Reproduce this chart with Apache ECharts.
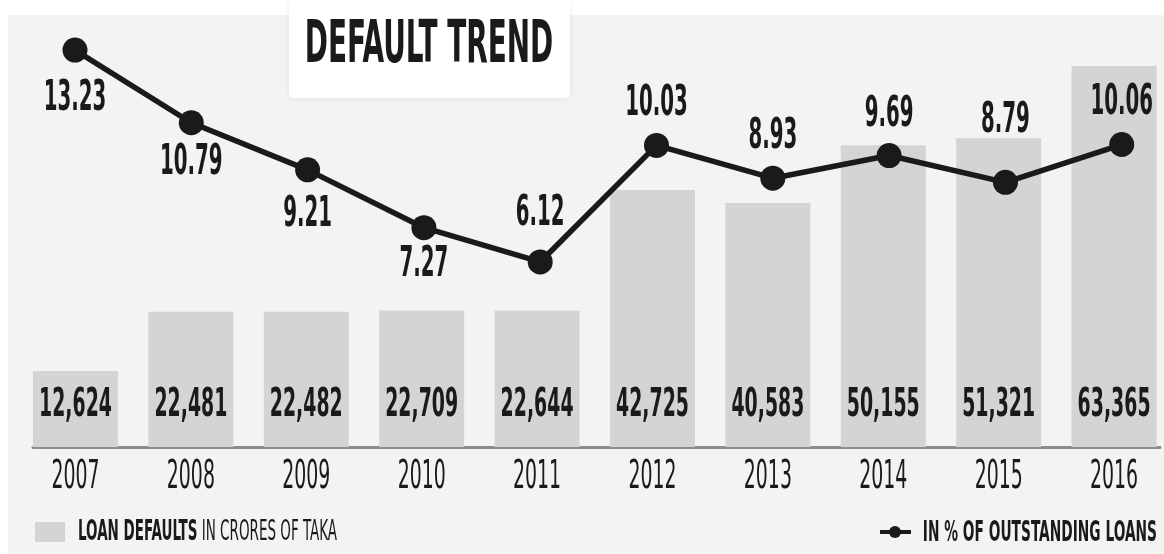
<!DOCTYPE html>
<html>
<head>
<meta charset="utf-8">
<script src="https://cdn.jsdelivr.net/npm/echarts@6/dist/echarts.min.js"></script>
<style>
  html, body { margin: 0; padding: 0; background: #fff; }
  #chart { width: 1164px; height: 554px; }
</style>
</head>
<body>
<div id="chart"></div>
<script>
  // data
  const years = ['2007', '2008', '2009', '2010', '2011', '2012', '2013', '2014', '2015', '2016'];
  const loanDefaults = [12624, 22481, 22482, 22709, 22644, 42725, 40583, 50155, 51321, 63365];
  const pctOutstanding = [13.23, 10.79, 9.21, 7.27, 6.12, 10.03, 8.93, 9.69, 8.79, 10.06];

  // vertical offset of each percentage label from its dot (px, + is below)
  const pctLabelDy = [49, 40, 45, 37, -48, -41, -41, -40, -61, -41];

  // the source uses a very narrow face, so text is stretched upward
  const FONT = "'DejaVu Sans Condensed', 'Liberation Sans Narrow', sans-serif";
  const STRETCH = 1.9;
  const INK = '#1a1a1a';

  const chart = echarts.init(document.getElementById('chart'));

  function tallText(x, y, text, size, bold, align) {
    return {
      type: 'text',
      x: x,
      y: y,
      scaleY: STRETCH,
      style: {
        text: text,
        fontFamily: FONT,
        fontSize: size,
        fontWeight: bold ? 'bold' : 'normal',
        fill: INK,
        textAlign: align || 'center',
        textVerticalAlign: 'middle',
        align: align || 'center',
        verticalAlign: 'middle'
      }
    };
  }

  const option = {
    backgroundColor: '#ffffff',
    animation: false,
    graphic: [
      {
        type: 'rect',
        z: -100,
        shape: { x: 8, y: 15, width: 1156, height: 539 },
        style: { fill: '#f3f3f3' }
      },
      {
        type: 'rect',
        z: -50,
        shape: { x: 289, y: 0, width: 281, height: 98, r: 4 },
        style: { fill: '#ffffff', shadowBlur: 6, shadowColor: 'rgba(0,0,0,0.08)' }
      },
      tallText(429, 47, 'DEFAULT TREND', 31, true),
      // legend: loan defaults
      {
        type: 'rect',
        shape: { x: 35, y: 522, width: 30, height: 20 },
        style: { fill: '#d4d4d4' }
      },
      {
        type: 'text',
        x: 78,
        y: 533,
        scaleY: STRETCH,
        style: {
          text: '{b|LOAN DEFAULTS}{n| IN CRORES OF TAKA}',
          textVerticalAlign: 'middle',
          verticalAlign: 'middle',
          rich: {
            b: { fontFamily: FONT, fontSize: 15, fontWeight: 'bold', fill: INK, color: INK },
            n: { fontFamily: FONT, fontSize: 15, fill: INK, color: INK }
          }
        }
      },
      // legend: percentage line
      {
        type: 'line',
        shape: { x1: 880, y1: 532, x2: 911, y2: 532 },
        style: { stroke: INK, lineWidth: 4 }
      },
      {
        type: 'circle',
        shape: { cx: 895, cy: 532, r: 6 },
        style: { fill: INK }
      },
      tallText(1157, 533, 'IN % OF OUTSTANDING LOANS', 15.3, true, 'right')
    ],
    grid: { left: 33, right: 4, top: 14, bottom: 107 },
    xAxis: [
      {
        type: 'value',
        min: -0.368,
        max: 9.398,
        axisTick: { show: false },
        axisLabel: { show: false },
        splitLine: { show: false },
        axisLine: { show: true, onZero: false, lineStyle: { color: '#8c8c8c', width: 3 } }
      },
      {
        type: 'value',
        min: -0.361,
        max: 9.329,
        show: false
      }
    ],
    yAxis: [
      { type: 'value', min: 0, max: 72000, show: false, splitLine: { show: false } },
      { type: 'value', min: -0.09, max: 14.44, show: false, splitLine: { show: false } }
    ],
    series: [
      {
        name: 'LOAN DEFAULTS',
        type: 'bar',
        data: loanDefaults.map((v, i) => [i, v]),
        barWidth: 85,
        itemStyle: { color: '#d4d4d4' }
      },
      {
        name: 'IN % OF OUTSTANDING LOANS',
        type: 'line',
        xAxisIndex: 1,
        yAxisIndex: 1,
        data: pctOutstanding.map((v, i) => [i, v]),
        symbol: 'circle',
        symbolSize: 25,
        lineStyle: { color: INK, width: 5.5 },
        itemStyle: { color: INK },
        z: 5
      },
      {
        // bar values and year labels
        type: 'custom',
        data: loanDefaults.map((v, i) => [i, v]),
        z: 10,
        renderItem: (params, api) => {
          const i = api.value(0);
          const base = api.coord([i, 0]);
          return {
            type: 'group',
            children: [
              tallText(base[0], base[1] - 41, api.value(1).toLocaleString('en-US'), 21, true),
              tallText(base[0], base[1] + 31, years[params.dataIndex], 21, false)
            ]
          };
        }
      },
      {
        // percentage labels
        type: 'custom',
        xAxisIndex: 1,
        yAxisIndex: 1,
        data: pctOutstanding.map((v, i) => [i, v]),
        z: 10,
        renderItem: (params, api) => {
          const p = api.coord([api.value(0), api.value(1)]);
          return tallText(p[0], p[1] + pctLabelDy[params.dataIndex], api.value(1).toFixed(2), 22, true);
        }
      }
    ]
  };

  chart.setOption(option);
</script>
</body>
</html>
